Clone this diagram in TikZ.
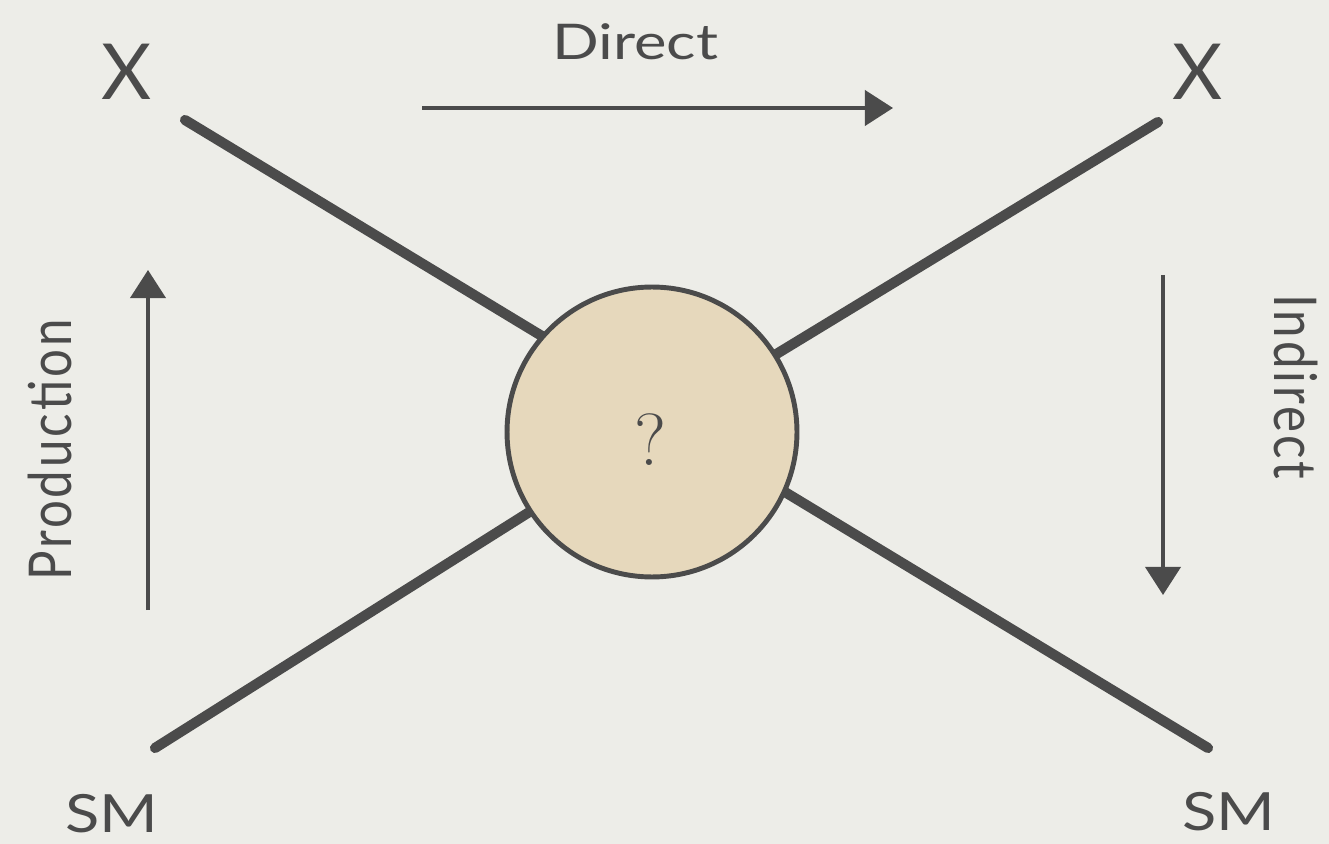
\documentclass[tikz,border=0pt]{standalone}
\usepackage{fontspec}
\setmainfont{Lato}
\usetikzlibrary{arrows.meta}
\definecolor{bgc}{HTML}{EDEDE8}
\definecolor{ink}{HTML}{4B4B4B}
\definecolor{blobfill}{HTML}{E6D8BC}
\tikzset{
  leg/.style={draw=ink, line width=5.8pt, line cap=round},
  flow/.style={draw=ink, line width=2.2pt, -{Triangle[length=16pt,width=20pt]}},
  lbl/.style={text=ink, inner sep=0pt},
  side/.style={lbl, font=\fontsize{28}{28}\selectfont\addfontfeatures{LetterSpace=6}},
}
\begin{document}
\begin{tikzpicture}[x=0.02cm,y=-0.02cm]
\fill[bgc] (0,0) rectangle (1329,844);
\useasboundingbox (0,0) rectangle (1329,844);
% blob centre and leg ends
\coordinate (c) at (652,432);
\coordinate (ul) at (185,120);
\coordinate (ulin) at (560,347);
\coordinate (ur) at (1158,122);
\coordinate (urin) at (760,364);
\coordinate (ll) at (155,748);
\coordinate (llin) at (550,499);
\coordinate (lr) at (1208,748);
\coordinate (lrin) at (770,483);
\draw[leg] (ul) -- (ulin);
\draw[leg] (ur) -- (urin);
\draw[leg] (ll) -- (llin);
\draw[leg] (lr) -- (lrin);
\node[circle, draw=ink, line width=2.8pt, fill=blobfill, minimum size=5.8cm, inner sep=0pt] (blob) at (c) {};
\node[lbl, font=\fontspec{Latin Modern Roman}\fontsize{42}{42}\selectfont] (q) at (650,440) {?};
% labels
\node[lbl, font=\fontsize{44}{44}\selectfont] (x1) at (127,72) {X};
\node[lbl, font=\fontsize{44}{44}\selectfont] (x2) at (1198,72) {X};
\node[lbl, anchor=base, font=\fontsize{30}{30}\selectfont, xscale=1.2] (sm1) at (112,832) {SM};
\node[lbl, anchor=base, font=\fontsize{30}{30}\selectfont, xscale=1.2] (sm2) at (1229,830) {SM};
\node[lbl, font=\fontsize{28}{28}\selectfont, xscale=1.25] (dir) at (635,42) {Direct};
\node[side, xscale=1.2, rotate=90] (prod) at (50,450) {Production};
\node[side, xscale=1.2, rotate=-90] (ind) at (1296,387) {Indirect};
% arrows
\coordinate (d0) at (422,108);
\coordinate (d1) at (893,108);
\coordinate (p0) at (148,610);
\coordinate (p1) at (148,270);
\coordinate (i0) at (1163,275);
\coordinate (i1) at (1163,595);
\draw[flow] (d0) -- (d1);
\draw[flow] (p0) -- (p1);
\draw[flow] (i0) -- (i1);
\end{tikzpicture}
\end{document}
